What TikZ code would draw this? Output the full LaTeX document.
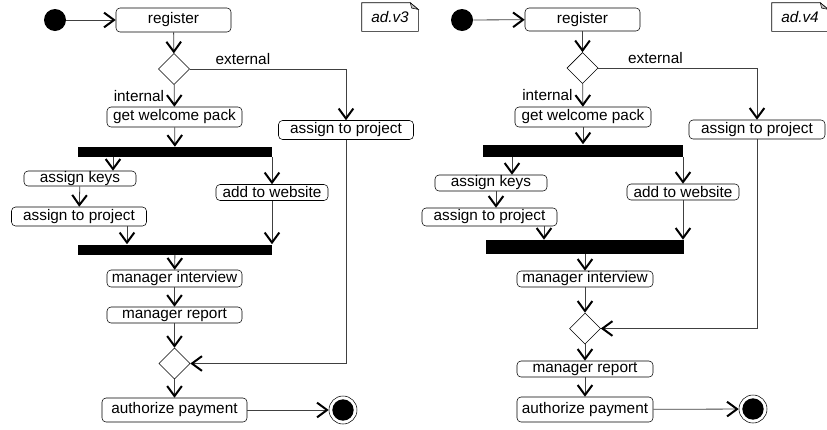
\documentclass[tikz,border=0pt]{standalone}
\usepackage{fontspec}
\setmainfont{Liberation Sans}
\usetikzlibrary{arrows.meta,shapes.geometric,calc}

\tikzset{
  act/.style 2 args={draw, rounded corners=3pt, inner sep=0pt,
    minimum width=#1*0.75pt, minimum height=#2*0.75pt},
  bar/.style 2 args={fill=black, inner sep=0pt,
    minimum width=#1*0.75pt, minimum height=#2*0.75pt},
  dec/.style={draw, diamond, inner sep=0pt, minimum width=23.25pt, minimum height=23.25pt},
  start/.style={fill=black, circle, inner sep=0pt, minimum size=16.5pt},
  stop/.style={draw, circle, inner sep=0pt, minimum size=21pt,
    path picture={\fill[black] (path picture bounding box.center) circle (8pt);}},
  memo/.style={inner sep=0pt, minimum width=42pt, minimum height=21pt, font=\fontsize{11.5}{13}\selectfont\itshape},
  flow/.style={draw=black!75, line width=0.6pt},
  every edge/.style={draw, flow}
}

\begin{document}
\begin{tikzpicture}[x=0.75pt,y=-0.75pt,
    >={Straight Barb[length=7.5pt,width=11pt,line width=1.5pt,color=black]},
    font=\fontsize{11.5}{13}\selectfont]
  \useasboundingbox (0,0) rectangle (827,429);

  % ad.v3
  \node[start] at (55,20) (init3) {};
  \node[act={115}{24}] at (173.5,20) (reg3) {register};
  \node[dec] at (174,69) (dec3) {};
  \node[act={135}{20}] at (174.5,117) (gwp3) {get welcome pack};
  \node[act={135}{19}] at (346,130) (atpE3) {assign to project};
  \node[bar={194}{10}] at (175,152) (fork3) {};
  \node[act={112}{15}] at (80,178.5) (keys3) {assign keys};
  \node[act={112}{16}] at (272,192.5) (web3) {add to website};
  \node[act={135}{19}] at (79,216.5) (atpI3) {assign to project};
  \node[bar={194}{10}] at (175,249.5) (join3) {};
  \node[act={135}{17}] at (174.5,278.5) (mint3) {manager interview};
  \node[act={135}{16}] at (174.5,315) (mrep3) {manager report};
  \node[dec] at (174.5,363.5) (merge3) {};
  \node[act={145}{24}] at (174.5,410) (auth3) {authorize payment};
  \node[stop] at (343,410) (end3) {};
  \node[memo] at (390,17) (note3) {ad.v3};
  \draw (note3.south west) -- (note3.north west) -- ([xshift=-6pt]note3.north east)
    -- ([yshift=-5pt]note3.north east) -- (note3.south east) -- cycle;
  \draw[fill=black!25] ([xshift=-6pt]note3.north east) -- ([xshift=-5pt,yshift=-4pt]note3.north east)
    -- ([yshift=-5pt]note3.north east) -- cycle;
  \coordinate (k3) at ($(keys3.north)+(33,0)$);
  \coordinate (p3) at ($(atpI3.south)+(48,0)$);

  \path[->]
    (init3) edge (reg3)
    (reg3) edge (dec3)
    (dec3) edge node[left,xshift=-4pt] {internal} (gwp3)
    (gwp3) edge (fork3)
    (fork3.south -| k3) edge (k3)
    (web3.north |- fork3.south) edge (web3.north)
    (keys3) edge (atpI3)
    (p3) edge (p3 |- join3.north)
    (web3.south) edge (web3.south |- join3.north)
    (join3) edge (mint3)
    (mint3) edge (mrep3)
    (mrep3) edge (merge3)
    (merge3) edge (auth3)
    (auth3) edge (end3);
  \draw[->,flow] (dec3.east) -| node[pos=0.17,above] {external} (atpE3.north);
  \draw[->,flow] (atpE3.south) |- (merge3.east);

  % ad.v4
  \node[start] at (462,20) (init4) {};
  \node[act={115}{23}] at (582.5,19.5) (reg4) {register};
  \node[dec] at (582.5,68) (dec4) {};
  \node[act={136}{20}] at (583,117) (gwp4) {get welcome pack};
  \node[act={136}{19}] at (757,129.5) (atpE4) {assign to project};
  \node[bar={200}{12}] at (583,150.5) (fork4) {};
  \node[act={112}{16}] at (491,183) (keys4) {assign keys};
  \node[act={112}{16}] at (683,192) (web4) {add to website};
  \node[act={135}{18}] at (489.5,217) (atpI4) {assign to project};
  \node[bar={198}{14}] at (585,247) (join4) {};
  \node[act={136}{16}] at (585,279) (mint4) {manager interview};
  \node[dec] at (585,328.5) (merge4) {};
  \node[act={136}{16}] at (585,369) (mrep4) {manager report};
  \node[act={136}{25}] at (585,409.5) (auth4) {authorize payment};
  \node[stop] at (753,409) (end4) {};
  \node[memo] at (800,17) (note4) {ad.v4};
  \draw (note4.south west) -- (note4.north west) -- ([xshift=-6pt]note4.north east)
    -- ([yshift=-5pt]note4.north east) -- (note4.south east) -- cycle;
  \draw[fill=black!25] ([xshift=-6pt]note4.north east) -- ([xshift=-5pt,yshift=-4pt]note4.north east)
    -- ([yshift=-5pt]note4.north east) -- cycle;
  \coordinate (k4) at ($(keys4.north)+(21,0)$);
  \coordinate (a4) at ($(atpI4.north)+(6.5,0)$);
  \coordinate (p4) at ($(atpI4.south)+(54.5,0)$);

  \path[->]
    (init4) edge (reg4)
    (reg4) edge (dec4)
    (dec4) edge node[left,xshift=-4pt] {internal} (gwp4)
    (gwp4) edge (fork4)
    (fork4.south -| k4) edge (k4)
    (web4.north |- fork4.south) edge (web4.north)
    (keys4.south -| a4) edge (a4)
    (p4) edge (p4 |- join4.north)
    (web4.south) edge (web4.south |- join4.north)
    (join4) edge (mint4)
    (mint4) edge (merge4)
    (merge4) edge (mrep4)
    (mrep4) edge (auth4)
    (auth4) edge (end4);
  \draw[->,flow] (dec4.east) -| node[pos=0.18,above] {external} (atpE4.north);
  \draw[->,flow] (atpE4.south) |- (merge4.east);
\end{tikzpicture}
\end{document}
